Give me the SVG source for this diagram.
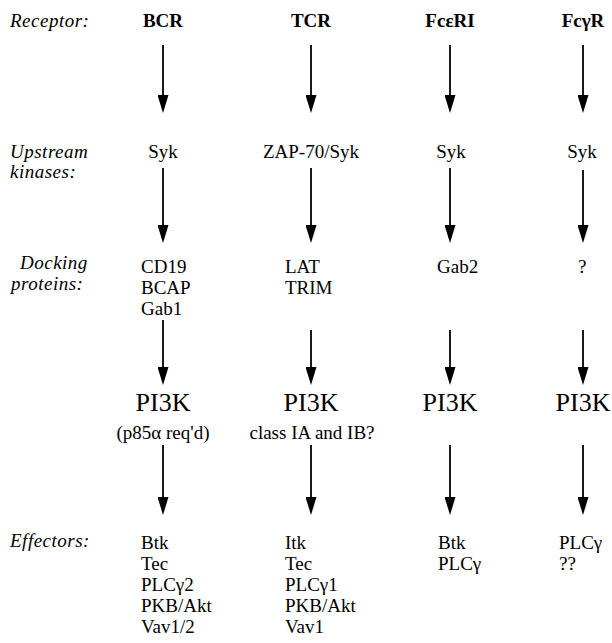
<svg xmlns="http://www.w3.org/2000/svg" width="612" height="643" viewBox="0 0 612 643">
<defs>
<style>
text{font-family:"Liberation Serif","Times New Roman",serif;font-size:19px;fill:#000}
.lab{font-style:italic;letter-spacing:0.5px}
.b{font-weight:bold}
.c{text-anchor:middle}
.big{font-size:26px}
.arr line{stroke:#000;stroke-width:1.8;marker-end:url(#ah)}
</style>
<marker id="ah" markerUnits="userSpaceOnUse" viewBox="0 0 11 18" markerWidth="11" markerHeight="18" refX="5.5" refY="13" orient="0">
<path d="M0,0 L11,0 L5.5,18 z" fill="#000"/>
</marker>
</defs>
<rect width="612" height="643" fill="#fff"/>
<g id="labels">
<text class="lab" x="10" y="27">Receptor:</text>
<text class="lab" x="10" y="158">Upstream</text>
<text class="lab" x="10" y="178">kinases:</text>
<text class="lab" x="20" y="269">Docking</text>
<text class="lab" x="11" y="290">proteins:</text>
<text class="lab" x="10" y="547">Effectors:</text>
</g>
<g id="receptors">
<text class="b c" x="163" y="27">BCR</text>
<text class="b c" x="311" y="27">TCR</text>
<text class="b c" x="450" y="27">FcεRI</text>
<text class="b c" x="583" y="27">FcγR</text>
</g>
<g id="kinases">
<text class="c" x="163" y="158">Syk</text>
<text class="c" x="311" y="158">ZAP-70/Syk</text>
<text class="c" x="451" y="158">Syk</text>
<text class="c" x="582" y="158">Syk</text>
</g>
<g id="docking">
<text x="141" y="273">CD19</text>
<text x="141" y="294">BCAP</text>
<text x="141" y="315">Gab1</text>
<text x="285" y="273">LAT</text>
<text x="285" y="294">TRIM</text>
<text x="437" y="273">Gab2</text>
<text x="578" y="273">?</text>
</g>
<g id="pi3k">
<text class="c big" x="163" y="411">PI3K</text>
<text class="c" x="163" y="439">(p85α req'd)</text>
<text class="c big" x="311" y="411">PI3K</text>
<text class="c" x="312" y="439">class IA and IB?</text>
<text class="c big" x="450" y="411">PI3K</text>
<text class="c big" x="583" y="411">PI3K</text>
</g>
<g id="effectors">
<text x="141" y="549">Btk</text>
<text x="141" y="570">Tec</text>
<text x="141" y="591">PLCγ2</text>
<text x="141" y="612">PKB/Akt</text>
<text x="141" y="633">Vav1/2</text>
<text x="285" y="549">Itk</text>
<text x="285" y="570">Tec</text>
<text x="285" y="591">PLCγ1</text>
<text x="285" y="612">PKB/Akt</text>
<text x="285" y="633">Vav1</text>
<text x="438" y="549">Btk</text>
<text x="438" y="570">PLCγ</text>
<text x="559" y="549">PLCγ</text>
<text x="559" y="570">??</text>
</g>
<g id="connectors" class="arr">
<line x1="163" y1="45" x2="163" y2="108"/>
<line x1="311" y1="45" x2="311" y2="108"/>
<line x1="450" y1="45" x2="450" y2="108"/>
<line x1="583" y1="45" x2="583" y2="108"/>
<line x1="163" y1="168" x2="163" y2="238"/>
<line x1="311" y1="168" x2="311" y2="238"/>
<line x1="450" y1="168" x2="450" y2="238"/>
<line x1="583" y1="170" x2="583" y2="238"/>
<line x1="163" y1="320" x2="163" y2="380"/>
<line x1="311" y1="330" x2="311" y2="380"/>
<line x1="450" y1="330" x2="450" y2="380"/>
<line x1="583" y1="330" x2="583" y2="380"/>
<line x1="163" y1="445" x2="163" y2="510"/>
<line x1="311" y1="445" x2="311" y2="510"/>
<line x1="450" y1="445" x2="450" y2="510"/>
<line x1="583" y1="445" x2="583" y2="510"/>
</g>
</svg>
